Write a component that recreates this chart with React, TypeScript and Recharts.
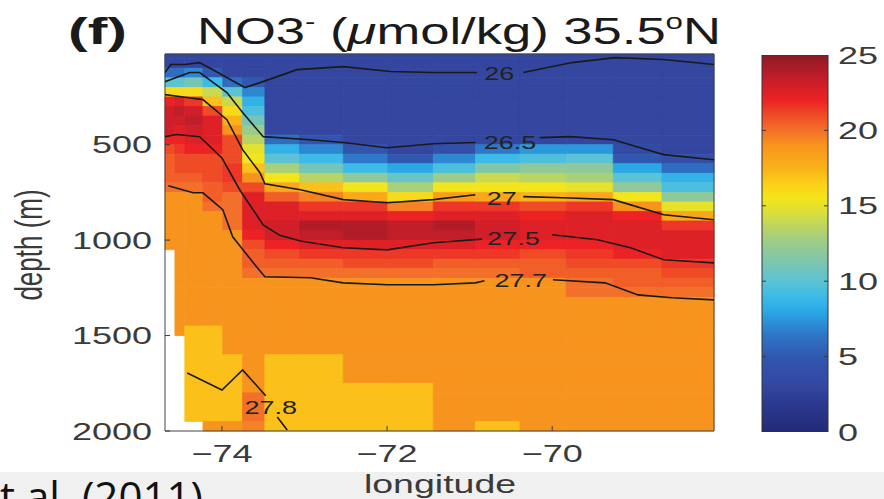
import React from "react";
import { Bar, BarChart, ReferenceArea, Scatter, ScatterChart, XAxis, YAxis } from "recharts";

// station boundaries along 35.5N (degrees east) and depth bin edges (m)
const lonEdges = [-74.69, -74.57, -74.45, -74.23, -73.99, -73.75, -73.48, -73.06, -72.53, -71.99, -71.44, -70.93, -70.39, -69.83, -69.26, -68.67, -68.04];
const depthEdges = [
	25, 50, 100, 150, 200, 250, 300, 350, 400, 450, 500, 550, 600, 650, 700, 750, 800, 850, 900, 950, 1000,
	1050, 1100, 1150, 1200, 1250, 1300, 1350, 1400, 1450, 1500, 1550, 1600, 1650, 1700, 1750, 1800, 1850, 1900, 1950, 2000,
];

// NO3- (umol/kg) per depth bin, one list per station column, west to east
const st01 = [3, 3, 6, 10, 16, 22, 23, 23, 23, 22, 21, 20.5, 20.5, 20.5, 20, 19, 19, 19, 19, 19, 19, null, null, null, null, null, null, null, null, null, null, null, null, null, null, null, null, null, null, null];
const st02 = [3, 3, 6, 10, 16, 22.5, 23.5, 23, 22.5, 22, 21.5, 21, 21, 20.5, 20, 19, 19, 19, 19, 19, 19, 19, 19, 19, 19, 19, 19, 19, 19, 19, null, null, null, null, null, null, null, null, null, null];
const st03 = [3, 3, 7, 11, 16, 21.5, 23, 23.5, 23, 22.5, 22, 21, 21, 20.5, 20, 19, 19, 19, 19, 19, 19, 19, 19, 19, 19, 19, 19, 19, 19, 17, 17, 17, 17, 17, 17, 17, 17, 17, 17, null];
const st04 = [3, 3, 5, 9, 14, 17, 21, 22.5, 22.5, 22.5, 22, 21, 21, 21, 20.5, 20.5, 20, 19, 19, 19, 19, 19, 19, 19, 19, 19, 19, 19, 19, 17, 17, 17, 17, 17, 17, 17, 17, 17, 17, 19];
const st05 = [3, 3, 3, 6, 10, 14, 16, 17.5, 19, 21, 21, 21, 21.5, 21.5, 21, 20, 20, 20, 20, 19, 19, 19, 19, 19, 19, 19, 19, 19, 19, 19, 19, 19, 17, 17, 17, 17, 17, 17, 17, 19];
const st06 = [3, 3, 3, 5, 7, 8.5, 9.5, 11, 12.5, 13.5, 15, 15.5, 17, 19, 21, 22.5, 22.5, 22.5, 22.5, 22, 21, 20.5, 20.5, 20, 19, 19, 19, 19, 19, 19, 19, 19, 19, 19, 19, 19, 20, 20, 20, 19.5];
const st07 = [3, 3, 3, 3, 3, 3, 3, 3, 3, 6, 8.5, 10, 13, 15.5, 18, 20.5, 22.5, 22.5, 23, 23, 22, 21, 20.5, 20, 19, 19, 19, 19, 19, 19, 19, 19, 17, 17, 17, 17, 17, 17, 17, 17];
const st08 = [3, 3, 3, 3, 3, 3, 3, 3, 3, 4.5, 7, 9, 11, 13.5, 17, 19.5, 21.5, 22.5, 24, 23.5, 22.5, 21.5, 20.5, 20, 19, 19, 19, 19, 19, 19, 19, 19, 17, 17, 17, 17, 17, 17, 17, 17];
const st09 = [3, 3, 3, 3, 3, 3, 3, 3, 3, 3, 4.5, 6.5, 9, 12, 15.5, 18, 21.5, 22.5, 24, 24, 22.5, 21.5, 21, 20, 19, 19, 19, 19, 19, 19, 19, 19, 19, 19, 19, 17, 17, 17, 17, 17];
const st10 = [3, 3, 3, 3, 3, 3, 3, 3, 3, 3, 3, 5, 8, 10.5, 13, 16, 19.5, 22, 23.5, 23.5, 22.5, 21.5, 21, 20, 19, 19, 19, 19, 19, 19, 19, 19, 19, 19, 19, 17, 17, 17, 17, 17];
const st11 = [3, 3, 3, 3, 3, 3, 3, 3, 3, 3, 4, 7, 9.5, 12.5, 15.5, 18.5, 21.5, 22.5, 24, 23.5, 22.5, 21.5, 20.5, 20, 19, 19, 19, 19, 19, 19, 19, 19, 19, 19, 19, 19, 19, 19, 19, 19];
const st12 = [3, 3, 3, 3, 3, 3, 3, 3, 3, 3, 6.5, 9, 11.5, 14, 15.5, 18, 21.5, 22.5, 23, 23, 22, 21.5, 20.5, 20, 19, 19, 19, 19, 19, 19, 19, 19, 19, 19, 19, 19, 19, 19, 19, 17];
const st13 = [3, 3, 3, 3, 3, 3, 3, 3, 3, 3, 7.5, 9.5, 12, 13.5, 15.5, 17.5, 21, 22, 22.5, 22.5, 22, 21, 20.5, 20.5, 19, 19, 19, 19, 19, 19, 19, 19, 19, 19, 19, 19, 19, 19, 19, 19];
const st14 = [3, 3, 3, 3, 3, 3, 3, 3, 3, 3, 7.5, 10, 12, 13, 15, 18, 21.5, 22.5, 22.5, 22.5, 22, 21.5, 21, 20.5, 20, 20, 19, 19, 19, 19, 19, 19, 19, 19, 19, 19, 19, 19, 19, 19];
const st15 = [3, 3, 3, 3, 3, 3, 3, 3, 3, 3, 3.5, 5, 8, 10, 12, 15.5, 19, 22, 22.5, 22.5, 22.5, 22, 21, 20.5, 20.5, 20, 19, 19, 19, 19, 19, 19, 19, 19, 19, 19, 19, 19, 19, 19];
const st16 = [3, 3, 3, 3, 3, 3, 3, 3, 3, 3, 3, 4, 6, 8.5, 9.5, 12, 15, 18, 21.5, 22.5, 22.5, 22.5, 21.5, 21, 20.5, 20, 19, 19, 19, 19, 19, 19, 19, 19, 19, 19, 19, 19, 19, 19];
const stations = [st01, st02, st03, st04, st05, st06, st07, st08, st09, st10, st11, st12, st13, st14, st15, st16];

// potential density contours [lon, depth], split where the inline label sits
const sigma26W = [[-74.69, 122], [-74.62, 80], [-74.45, 80], [-74.27, 70], [-74.1, 110], [-73.72, 201], [-73.54, 175], [-73.09, 107], [-72.53, 91], [-71.96, 117], [-71.44, 122], [-70.91, 122]];
const sigma26E = [[-70.35, 122], [-69.76, 70], [-69.24, 44], [-68.65, 54], [-68.04, 80]];
const sigma265W = [[-74.69, 170], [-74.39, 122], [-74.27, 122], [-73.94, 227], [-73.75, 332], [-73.5, 458], [-72.93, 474], [-72.53, 489], [-72.0, 516], [-71.44, 495], [-70.93, 489]];
const sigma265E = [[-70.15, 463], [-69.78, 458], [-69.26, 474], [-68.65, 552], [-68.04, 579]];
const sigma27W = [[-74.69, 238], [-74.47, 250], [-74.23, 264], [-73.94, 369], [-73.75, 526], [-73.54, 647], [-73.48, 705], [-73.05, 736], [-72.53, 788], [-72.0, 804], [-71.44, 788], [-70.93, 762]];
const sigma27E = [[-70.35, 772], [-69.87, 778], [-69.26, 788], [-68.65, 867], [-68.04, 893]];
const sigma275W = [[-74.69, 458], [-74.55, 447], [-74.27, 458], [-74.0, 570], [-73.78, 740], [-73.5, 920], [-73.3, 975], [-73.05, 1005], [-72.53, 1040], [-72.0, 1051], [-71.44, 1014], [-70.85, 995]];
const sigma275E = [[-70.0, 972], [-69.45, 998], [-69.05, 1040], [-68.65, 1103], [-68.04, 1119]];
const sigma277W = [[-74.65, 715], [-74.35, 752], [-74.23, 752], [-73.99, 841], [-73.87, 983], [-73.62, 1119], [-73.48, 1192], [-72.93, 1197], [-72.53, 1224], [-71.99, 1234], [-71.44, 1234], [-70.93, 1224], [-70.82, 1213]];
const sigma277E = [[-69.99, 1208], [-69.36, 1224], [-68.96, 1287], [-68.55, 1302], [-68.04, 1313]];
const sigma278W = [[-74.42, 1696], [-74.0, 1785], [-73.75, 1680], [-73.47, 1815]];
const sigma278E = [[-73.33, 1927], [-73.21, 1995]];
const contourSegments = [sigma26W, sigma26E, sigma265W, sigma265E, sigma27W, sigma27E, sigma275W, sigma275E, sigma277W, sigma277E, sigma278W, sigma278E];

const labelText = ["26", "26.5", "27", "27.5", "27.7", "27.8"];
const labelLon = [-70.64, -70.51, -70.61, -70.47, -70.38, -73.41];
const labelDepth = [127, 489, 783, 993, 1213, 1879];

const lonTicks = [-74, -72, -70];
const depthTicks = [500, 1000, 1500, 2000];
const colorTicks = [0, 5, 10, 15, 20, 25];

const FONT = "'Liberation Sans', Arial, Helvetica, sans-serif";
const INK = "#3a3a3a";

const jet: [number, string][] = [
	[0, "#232a76"], [2, "#2b3a92"], [3, "#3446a0"], [5, "#3158b0"], [6.5, "#2d78c8"], [8, "#2aa8e6"],
	[9, "#3cbbe8"], [10, "#5cc3d4"], [11.5, "#82c6a8"], [13, "#a8cf7a"], [14.5, "#d9de3c"], [15.5, "#f3e51c"],
	[16.5, "#fbcf17"], [17.5, "#fab11a"], [19, "#f7941d"], [20, "#f3702a"], [21, "#ef4b26"], [22, "#ec2225"],
	[23, "#d01f28"], [24, "#b01c28"], [25, "#8b1a24"],
];

const hex = (c: string) => [1, 3, 5].map((i) => parseInt(c.slice(i, i + 2), 16));

const no3Color = (v: number) => {
	for (let i = 1; i < jet.length; i++) {
		if (v <= jet[i][0]) {
			const [v0, c0] = jet[i - 1];
			const [v1, c1] = jet[i];
			const t = (v - v0) / (v1 - v0);
			const a = hex(c0);
			const b = hex(c1);
			return `rgb(${a.map((x, k) => Math.round(x + (b[k] - x) * t)).join(",")})`;
		}
	}
	return jet[jet.length - 1][1];
};

const LonTick = (props: any) => {
	const { x, y, payload } = props;
	return (
		<g>
			<line x1={x} x2={x} y1={y} y2={y - 5} stroke={INK} />
			<text transform={`translate(${x},${y + 31}) scale(1.5,1)`} textAnchor="middle" fontSize={24} fill={INK} fontFamily={FONT}>
				{String(payload.value).replace("-", "\u2212")}
			</text>
		</g>
	);
};

const DepthTick = (props: any) => {
	const { x, y, payload } = props;
	return (
		<g>
			<line x1={x} x2={x + 5} y1={y} y2={y} stroke={INK} />
			<text transform={`translate(${x - 13},${y + 8.5}) scale(1.5,1)`} textAnchor="end" fontSize={24} fill={INK} fontFamily={FONT}>
				{payload.value}
			</text>
		</g>
	);
};

const ColorTick = (props: any) => {
	const { x, y, payload } = props;
	const inner = payload.value > 0 && payload.value < 25;
	return (
		<g>
			{inner && <line x1={x - 66} x2={x - 62} y1={y} y2={y} stroke={INK} />}
			{inner && <line x1={x - 4} x2={x} y1={y} y2={y} stroke={INK} />}
			<text transform={`translate(${x + 10},${y + 8.5}) scale(1.5,1)`} textAnchor="start" fontSize={24} fill={INK} fontFamily={FONT}>
				{payload.value}
			</text>
		</g>
	);
};

const ContourLabel = (props: any) => {
	const { cx, cy, payload } = props;
	return (
		<text transform={`translate(${cx},${cy}) scale(1.5,1)`} textAnchor="middle" dy="0.36em" fontSize={18} fill="#222" fontFamily={FONT}>
			{payload.text}
		</text>
	);
};

const noDot = () => <g />;

export default function App() {
	const cells = stations.flatMap((col, c) =>
		col.map((v, r) =>
			v === null ? null : (
				<ReferenceArea
					key={`${c}-${r}`}
					x1={lonEdges[c]}
					x2={lonEdges[c + 1]}
					y1={depthEdges[r]}
					y2={depthEdges[r + 1]}
					fill={no3Color(v)}
					fillOpacity={1}
					stroke={no3Color(v)}
					strokeWidth={0.8}
				/>
			)
		)
	);

	const labels = labelText.map((text, i) => ({ lon: labelLon[i], depth: labelDepth[i], text }));

	return (
		<div style={{ position: "absolute", left: 0, top: 0, width: 884, height: 499, background: "#fff", overflow: "hidden" }}>
			<div style={{ position: "absolute", left: 0, top: 472, width: 884, height: 27, background: "#f0f0f0" }} />

			<div style={{ position: "absolute", left: 0, top: 0 }}>
				<ScatterChart width={884} height={499} margin={{ top: 54, right: 170, bottom: 28, left: 85 }}>
					<XAxis
						type="number"
						dataKey="lon"
						domain={[lonEdges[0], lonEdges[lonEdges.length - 1]]}
						allowDataOverflow
						ticks={lonTicks}
						interval={0}
						height={40}
						axisLine={false}
						tickLine={false}
						tickSize={0}
						tickMargin={0}
						tick={LonTick}
					/>
					<YAxis
						type="number"
						dataKey="depth"
						domain={[25, 2000]}
						allowDataOverflow
						reversed
						ticks={depthTicks}
						interval={0}
						width={80}
						axisLine={false}
						tickLine={false}
						tickSize={0}
						tickMargin={0}
						tick={DepthTick}
					/>
					{cells}
					{contourSegments.map((seg, i) => (
						<Scatter
							key={i}
							data={seg.map(([lon, depth]) => ({ lon, depth }))}
							line={{ stroke: "#1a1a1a", strokeWidth: 1.6 }}
							shape={noDot}
							isAnimationActive={false}
						/>
					))}
					<Scatter data={labels} shape={ContourLabel} isAnimationActive={false} />
					<ReferenceArea
						x1={lonEdges[0]}
						x2={lonEdges[lonEdges.length - 1]}
						y1={25}
						y2={2000}
						fill="none"
						stroke="#444"
						strokeWidth={1}
					/>
				</ScatterChart>
			</div>

			<div style={{ position: "absolute", left: 740, top: 0 }}>
				<BarChart width={144} height={499} data={[{ name: "NO3", top: 25 }]} margin={{ top: 55, right: 6, bottom: 67, left: 22 }} barCategoryGap={0}>
					<defs>
						<linearGradient id="jetGrad" x1="0" y1="1" x2="0" y2="0">
							{jet.map(([v, c]) => (
								<stop key={v} offset={v / 25} stopColor={c} />
							))}
						</linearGradient>
					</defs>
					<XAxis dataKey="name" hide />
					<YAxis
						type="number"
						orientation="right"
						domain={[0, 25]}
						allowDataOverflow
						ticks={colorTicks}
						interval={0}
						width={50}
						axisLine={false}
						tickLine={false}
						tickSize={0}
						tickMargin={0}
						tick={ColorTick}
					/>
					<Bar dataKey="top" fill="url(#jetGrad)" stroke="#333" strokeWidth={1} isAnimationActive={false} />
				</BarChart>
			</div>

			<svg width={884} height={499} style={{ position: "absolute", left: 0, top: 0, pointerEvents: "none" }}>
				<text x={68} y={44} fontSize={37} fontWeight="bold" fill="#1a1a1a" fontFamily={FONT} textLength={59} lengthAdjust="spacingAndGlyphs">
					(f)
				</text>
				<text x={197} y={44} fontSize={37} fill="#1a1a1a" fontFamily={FONT} textLength={524} lengthAdjust="spacingAndGlyphs">
					NO3
					<tspan fontSize={22} dy={-15}>-</tspan>
					<tspan dy={15}> (</tspan>
					<tspan fontStyle="italic">μ</tspan>
					<tspan>mol/kg) 35.5</tspan>
					<tspan fontSize={22} dy={-15}>o</tspan>
					<tspan dy={15}>N</tspan>
				</text>
				<text transform="translate(42,245) scale(1.5,1) rotate(-90)" textAnchor="middle" fontSize={26} fill={INK} fontFamily={FONT}>
					depth (m)
				</text>
				<text transform="translate(440,493) scale(1.5,1)" textAnchor="middle" fontSize={25} fill={INK} fontFamily={FONT}>
					longitude
				</text>
				<text x={0} y={512} fontSize={42} fill="#111" fontFamily="'Open Sans', 'Noto Sans', sans-serif" textLength={203} lengthAdjust="spacingAndGlyphs">
					t al. (2011)
				</text>
			</svg>
		</div>
	);
}
